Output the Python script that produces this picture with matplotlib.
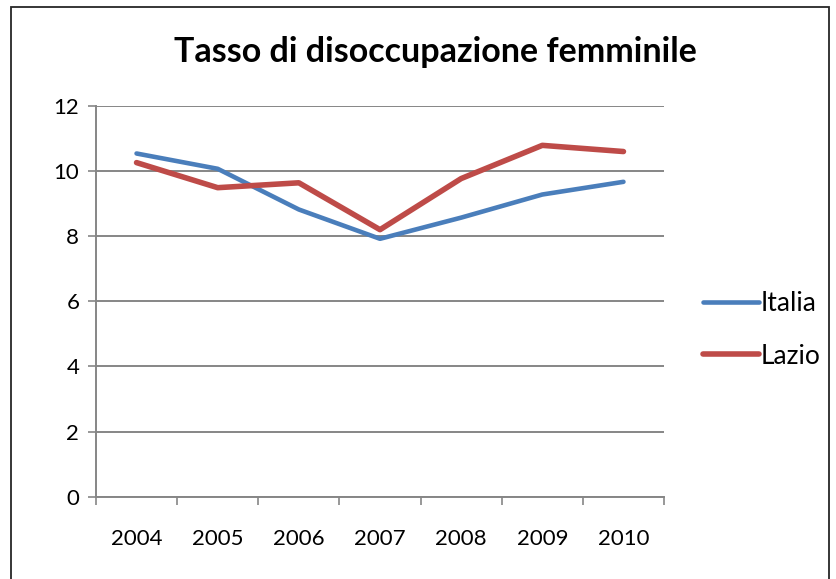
import matplotlib.pyplot as plt
import numpy as np
from matplotlib.patches import Rectangle

years = ["2004", "2005", "2006", "2007", "2008", "2009", "2010"]
italia = [10.54, 10.07, 8.82, 7.92, 8.57, 9.28, 9.67]
lazio = [10.26, 9.49, 9.64, 8.2, 9.77, 10.79, 10.6]

plt.rcParams['font.family'] = ['Lato', 'DejaVu Sans']

fig = plt.figure(figsize=(8.36, 5.79), dpi=100)
ax = fig.add_axes([0.1148, 0.1422, 0.6795, 0.6748])

# outer chart border
fig.patches.append(Rectangle((11 / 836, -0.05), (829 - 11) / 836, 1 - 7 / 579 + 0.05,
                             transform=fig.transFigure, fill=False,
                             edgecolor="#262626", linewidth=1.3))

x = np.arange(len(years))
ax.plot(x, italia, color="#4A7EBB", lw=3.3, solid_capstyle="round", label="Italia")
ax.plot(x, lazio, color="#BE4B48", lw=4.0, solid_capstyle="round", label="Lazio")

ax.set_xlim(-0.5, len(years) - 0.5)
ax.set_ylim(0, 12)
ax.set_yticks(range(0, 13, 2))
ax.set_xticks(x)
ax.set_xticklabels(years)
ax.set_xticks(np.arange(-0.5, len(years), 1), minor=True)
ax.tick_params(axis="x", which="major", length=0, pad=23, labelsize=16)
ax.tick_params(axis="x", which="minor", length=6, color="#868686", width=1.2)
ax.tick_params(axis="y", length=6, color="#868686", width=1.2, labelsize=16, pad=6)

ax.grid(axis="y", color="#868686", lw=1.4)
ax.set_axisbelow(True)
for s in ["top", "right"]:
    ax.spines[s].set_visible(False)
for s in ["left", "bottom"]:
    ax.spines[s].set_color("#868686")
    ax.spines[s].set_linewidth(1.4)

fig.text(0.521, 0.91, "Tasso di disoccupazione femminile", ha="center", va="center",
         fontsize=24.5, fontweight="bold")

ax.legend(loc="center left", bbox_to_anchor=(1.027, 0.427), frameon=False,
          fontsize=19, handlelength=2.1, handletextpad=0.08, labelspacing=1.05)

fig.savefig("out.png", dpi=100)
